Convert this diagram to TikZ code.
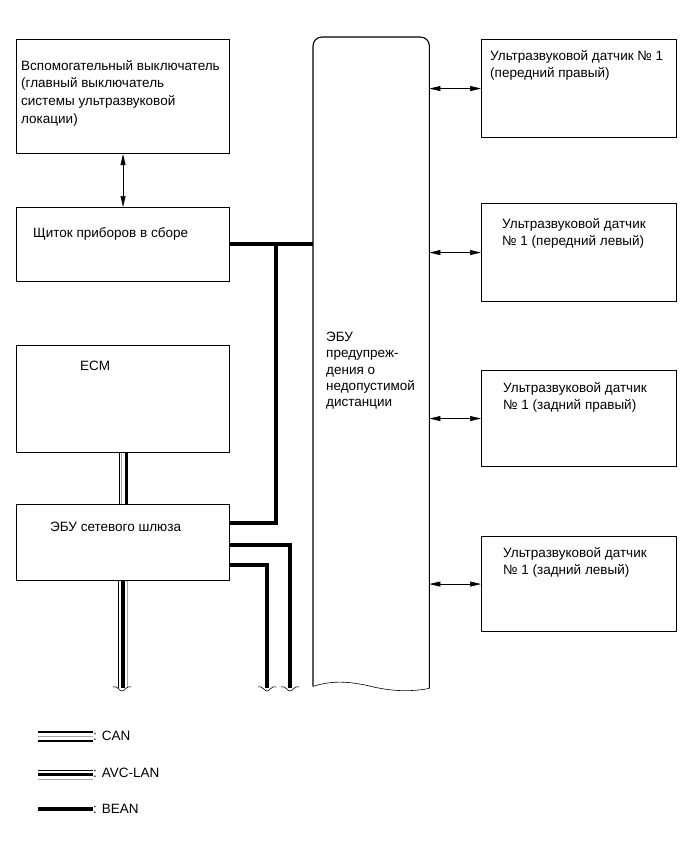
\documentclass[tikz,border=0pt]{standalone}
\usepackage{fontspec}
\setmainfont{Liberation Sans}
\usetikzlibrary{arrows.meta}
\begin{document}
\begin{tikzpicture}[x=1pt,y=-1pt,>={Triangle[length=11pt,width=5pt]},
  box/.style={draw, line width=1.1pt, rectangle, anchor=north west, inner sep=0pt},
  txt/.style={anchor=north west, inner sep=0pt, align=left, font=\fontsize{13.5}{17.7}\selectfont},
  bean/.style={line width=4pt},
  brk/.style={line width=0.6pt}]
\useasboundingbox (0,0) rectangle (690,854);
% left column
\node[box, minimum width=213pt, minimum height=114pt] (sw) at (16,39) {};
\node[box, minimum width=213pt, minimum height=74pt] (cl) at (16,207) {};
\node[box, minimum width=213pt, minimum height=107pt] (ecm) at (16,345) {};
\node[box, minimum width=213pt, minimum height=76pt] (gw) at (16,504) {};
\node[txt] (swt) at (21,60) {Вспомогательный выключатель\\(главный выключатель\\системы ультразвуковой\\локации)};
\node[txt] (clt) at (33,227) {Щиток приборов в сборе};
\node[txt] (ecmt) at (80,361) {ECM};
\node[txt] (gwt) at (50,522) {ЭБУ сетевого шлюза};
% ECU
\node[minimum width=116pt, minimum height=649pt, anchor=north west, inner sep=0pt] (ecu) at (313,37) {};
\node[txt, font=\fontsize{13.5}{16.3}\selectfont] (ecut) at (326,332) {ЭБУ\\предупреж-\\дения о\\недопустимой\\дистанции};
\draw[line width=1.1pt, rounded corners=9pt] (ecu.south west) -- (ecu.north west) -- (ecu.north east) -- ([yshift=-2pt]ecu.south east);
\draw[line width=0.6pt] (ecu.south west) .. controls (330,681) and (345,681) .. (365,685) .. controls (385,690) and (405,693) .. ([yshift=-2pt]ecu.south east);
% sensors
\node[box, minimum width=195pt, minimum height=98pt] (r1) at (481,39) {};
\node[box, minimum width=195pt, minimum height=98pt] (r2) at (481,203) {};
\node[box, minimum width=195pt, minimum height=96pt] (r3) at (481,370) {};
\node[box, minimum width=195pt, minimum height=95pt] (r4) at (481,536) {};
\node[txt] (r1t) at (490,50) {Ультразвуковой датчик № 1\\(передний правый)};
\node[txt] (r2t) at (502,218) {Ультразвуковой датчик\\№ 1 (передний левый)};
\node[txt] (r3t) at (503,382) {Ультразвуковой датчик\\№ 1 (задний правый)};
\node[txt] (r4t) at (503,547) {Ультразвуковой датчик\\№ 1 (задний левый)};
\draw[<->, line width=0.6pt] (sw.south) -- (cl.north);
\foreach \r in {r1,r2,r3,r4}
  \draw[<->, line width=0.6pt] (\r.west -| ecu.east) -- (\r.west);
% BEAN
\coordinate (j1) at (276,244);
\coordinate (g1) at ([yshift=20pt]gw.east);
\coordinate (g2) at ([yshift=-2pt]gw.east);
\coordinate (g3) at ([yshift=-22pt]gw.east);
\coordinate (e2) at (290,688);
\coordinate (e3) at (267,688);
\draw[bean] (cl.east |- j1) -- (j1) -- (j1 -| ecu.west);
\draw[bean] (j1) |- (g1);
\draw[bean] (g2) -| (e2);
\draw[bean] (g3) -| (e3);
% CAN
\draw[line width=0.9pt] ([xshift=-3pt]ecm.south -| 122,0) -- ([xshift=-3pt]gw.north -| 122,0);
\draw[line width=1pt, black!35] ([xshift=-0.3pt]ecm.south -| 122,0) -- ([xshift=-0.3pt]gw.north -| 122,0);
\draw[line width=2.4pt] ([xshift=4.3pt]ecm.south -| 122,0) -- ([xshift=4.3pt]gw.north -| 122,0);
% AVC-LAN
\coordinate (e1) at (122,688);
\draw[line width=0.9pt] ([xshift=-3.5pt]gw.south -| e1) -- ([xshift=-3.5pt]e1);
\draw[line width=4pt] ([xshift=0.8pt]gw.south -| e1) -- ([xshift=0.8pt]e1);
\draw[line width=1.2pt, black!35] ([xshift=5.4pt]gw.south -| e1) -- ([xshift=5.4pt]e1);
% break marks
\foreach \e in {e1,e2,e3}
  \draw[brk] ([xshift=-9pt,yshift=1pt]\e) .. controls +(4,-2) and +(-3,0) .. ([yshift=-3pt]\e) .. controls +(3,0) and +(-4,-2) .. ([xshift=9pt,yshift=1pt]\e);
% legend
\coordinate (can) at (38,736);
\coordinate (avc) at (38,774.5);
\coordinate (bn) at (38,809);
\draw[line width=1.2pt] ([yshift=4pt]can) -- +(55,0);
\draw[line width=1pt, black!35] (can) -- +(55,0);
\draw[line width=2.5pt] ([yshift=-5pt]can) -- +(55,0);
\draw[line width=1pt] ([yshift=4pt]avc) -- +(55,0);
\draw[line width=3.5pt] (avc) -- +(55,0);
\draw[line width=1pt, black!35] ([yshift=-4.5pt]avc) -- +(55,0);
\draw[bean] (bn) -- +(55,0);
\node[txt, anchor=west] (cant) at (93,736) {: CAN};
\node[txt, anchor=west] (avct) at (93,773) {: AVC-LAN};
\node[txt, anchor=west] (bnt) at (93,809) {: BEAN};
\end{tikzpicture}
\end{document}
